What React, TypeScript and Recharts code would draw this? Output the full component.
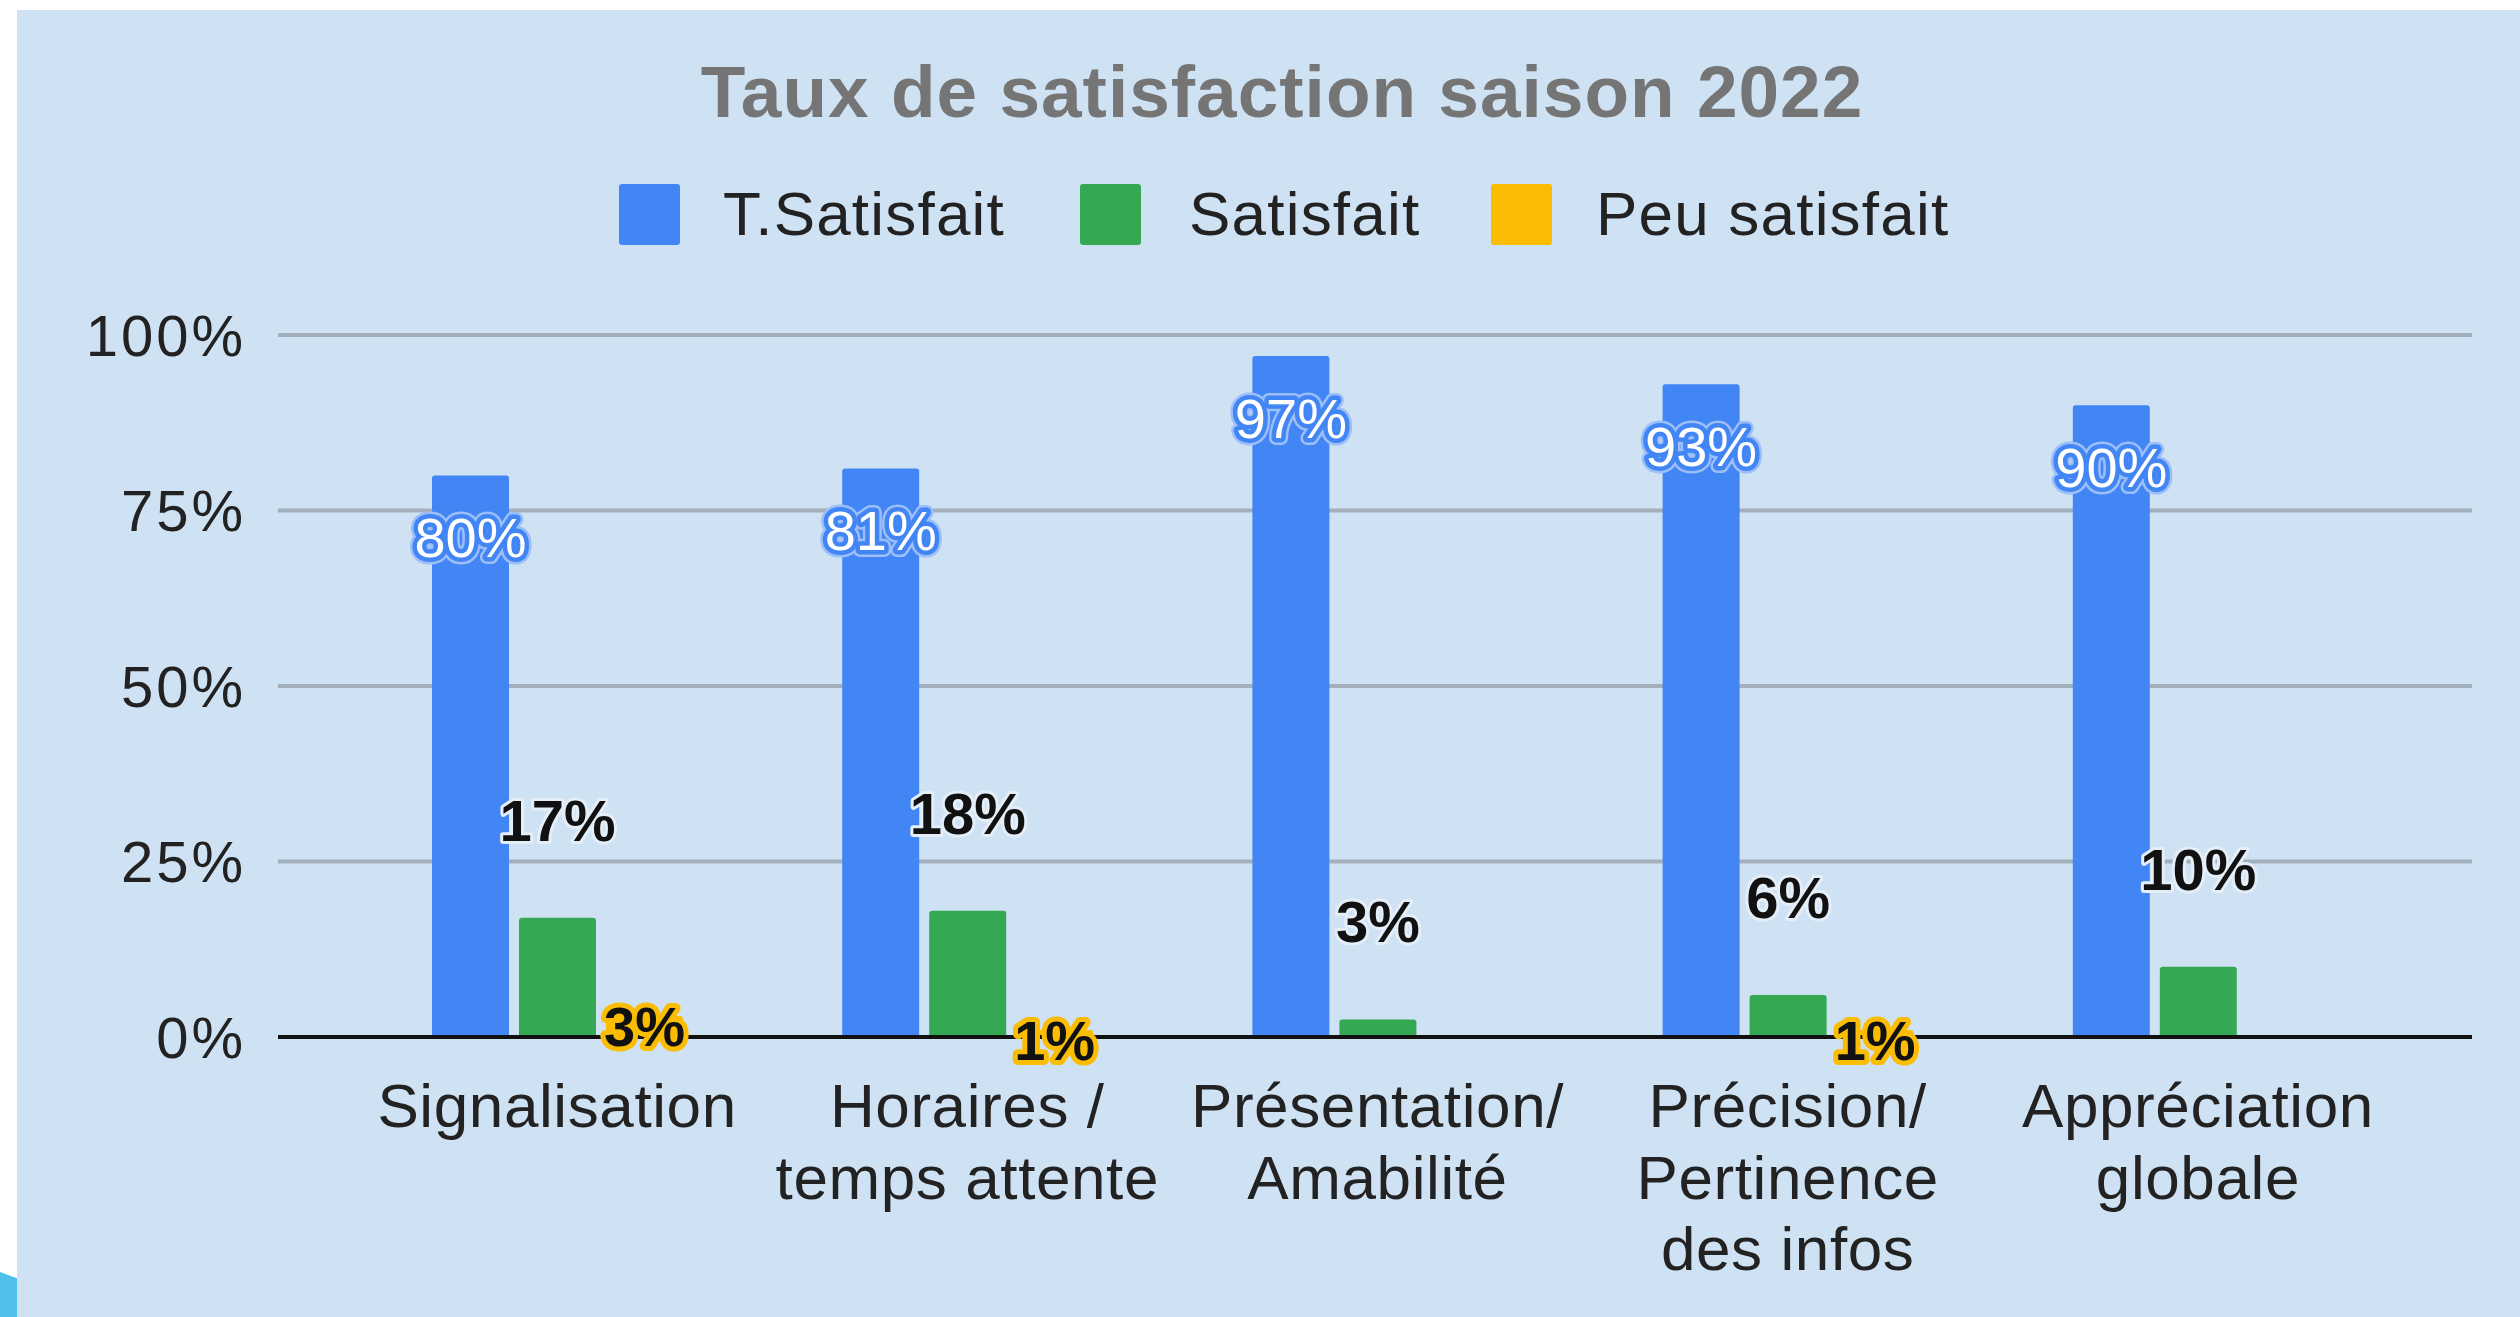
import { BarChart, Bar, XAxis, YAxis, CartesianGrid, LabelList } from "recharts";

const categories = [
  "Signalisation",
  "Horaires / temps attente",
  "Présentation/ Amabilité",
  "Précision/ Pertinence des infos",
  "Appréciation globale",
];
const categoryLines = [
  ["Signalisation"],
  ["Horaires /", "temps attente"],
  ["Présentation/", "Amabilité"],
  ["Précision/", "Pertinence", "des infos"],
  ["Appréciation", "globale"],
];
const tresSatisfait = [80, 81, 97, 93, 90];
const satisfait = [17, 18, 2.5, 6, 10];
const peuSatisfait = [3, 1, 0, 1, 0];
const yTicks = [0, 25, 50, 75, 100];
const seriesNames = ["T.Satisfait", "Satisfait", "Peu satisfait"];
const colors = ["#4285f4", "#34a853", "#fbbc04"];
const title = "Taux de satisfaction saison 2022";

const data = categories.map((name, i) => ({
  name,
  ts: tresSatisfait[i],
  s: satisfait[i],
  ps: peuSatisfait[i],
}));

const FONT = "'Liberation Sans', Arial, sans-serif";
const fmt = (v: number) => `${Math.round(v)}%`;

const CategoryTick = (props: any) => {
  const { x, y, payload } = props;
  const lines = categoryLines[categories.indexOf(payload.value)] || [payload.value];
  return (
    <text x={x} y={y + 90} textAnchor="middle" fontSize={62} fill="#222" fontFamily={FONT} letterSpacing={0.6}>
      {lines.map((l, i) => (
        <tspan key={i} x={x} dy={i === 0 ? 0 : 71.5}>
          {l}
        </tspan>
      ))}
    </text>
  );
};

const BlueLabel = (props: any) => {
  const { x, y, width, value } = props;
  const cx = x + width / 2;
  const ty = y + 82;
  return (
    <g fontFamily={FONT} fontSize={56} textAnchor="middle">
      <text x={cx} y={ty} fill="#9dbff9" stroke="#9dbff9" strokeWidth={14} strokeLinejoin="round">
        {fmt(value)}
      </text>
      <text x={cx} y={ty} fill="#fff" stroke="#4285f4" strokeWidth={9} strokeLinejoin="round" paintOrder="stroke">
        {fmt(value)}
      </text>
    </g>
  );
};

const GreenLabel = (props: any) => {
  const { x, y, width, value } = props;
  return (
    <text
      x={x + width / 2}
      y={y - 77}
      textAnchor="middle"
      fontFamily={FONT}
      fontSize={58}
      fontWeight="bold"
      fill="#111"
      stroke="#e4eef8"
      strokeWidth={6}
      strokeLinejoin="round"
      paintOrder="stroke"
    >
      {fmt(value)}
    </text>
  );
};

const YellowLabel = (props: any) => {
  const { x, y, width, value } = props;
  if (!value) return null;
  return (
    <text
      x={x + width / 2}
      y={y + 30}
      textAnchor="middle"
      fontFamily={FONT}
      fontSize={56}
      fontWeight="bold"
      fill="#111"
      stroke="#fbbc04"
      strokeWidth={10}
      strokeLinejoin="round"
      paintOrder="stroke"
    >
      {fmt(value)}
    </text>
  );
};

const legendX = [619, 1080, 1491];
const legendTextX = [723, 1189, 1596];

export default function App() {
  return (
    <div
      style={{
        position: "absolute",
        left: 0,
        top: 0,
        width: 2520,
        height: 1317,
        background: "#fff",
        overflow: "hidden",
        fontFamily: FONT,
      }}
    >
      <div
        style={{
          position: "absolute",
          left: 0,
          top: 1272,
          width: 17,
          height: 45,
          background: "#4fc0ea",
          clipPath: "polygon(0 0, 100% 14%, 100% 100%, 0 100%)",
        }}
      />
      <div
        style={{
          position: "absolute",
          left: 17,
          top: 10,
          width: 2503,
          height: 1307,
          background: "#cfe2f3",
        }}
      >
        <BarChart
          width={2503}
          height={1307}
          data={data}
          margin={{ top: 325, right: 48, bottom: 0, left: 0 }}
          barSize={77}
          barGap={10}
        >
          <CartesianGrid vertical={false} stroke="#a3afbb" strokeWidth={4} />
          <XAxis
            dataKey="name"
            height={280}
            padding={{ left: 74, right: 69 }}
            axisLine={{ stroke: "#111", strokeWidth: 4 }}
            tickLine={false}
            tickSize={0}
            tickMargin={0}
            interval={0}
            tick={<CategoryTick />}
          />
          <YAxis
            width={261}
            domain={[0, 100]}
            ticks={yTicks}
            axisLine={false}
            tickLine={false}
            tickMargin={26}
            tickFormatter={(v: number) => `${v}%`}
            tick={{ fill: "#222", fontSize: 58, fontFamily: FONT, letterSpacing: 3 }}
          />
          <Bar dataKey="ts" name={seriesNames[0]} fill={colors[0]} radius={[3, 3, 0, 0]} isAnimationActive={false}>
            <LabelList dataKey="ts" content={<BlueLabel />} />
          </Bar>
          <Bar dataKey="s" name={seriesNames[1]} fill={colors[1]} radius={[3, 3, 0, 0]} isAnimationActive={false}>
            <LabelList dataKey="s" content={<GreenLabel />} />
          </Bar>
          <Bar dataKey="ps" name={seriesNames[2]} fill={colors[2]} radius={[3, 3, 0, 0]} isAnimationActive={false}>
            <LabelList dataKey="ps" content={<YellowLabel />} />
          </Bar>
        </BarChart>
      </div>
      <svg
        width={2520}
        height={300}
        style={{ position: "absolute", left: 0, top: 0, pointerEvents: "none" }}
      >
        <text
          x={1282}
          y={117}
          textAnchor="middle"
          fontSize={73}
          fontWeight="bold"
          fill="#757575"
          fontFamily={FONT}
          letterSpacing={1}
        >
          {title}
        </text>
        {seriesNames.map((n, i) => (
          <g key={n}>
            <rect x={legendX[i]} y={184} width={61} height={61} rx={3} fill={colors[i]} />
            <text x={legendTextX[i]} y={235} fontSize={62} fill="#222" fontFamily={FONT} letterSpacing={1.2}>
              {n}
            </text>
          </g>
        ))}
      </svg>
    </div>
  );
}
